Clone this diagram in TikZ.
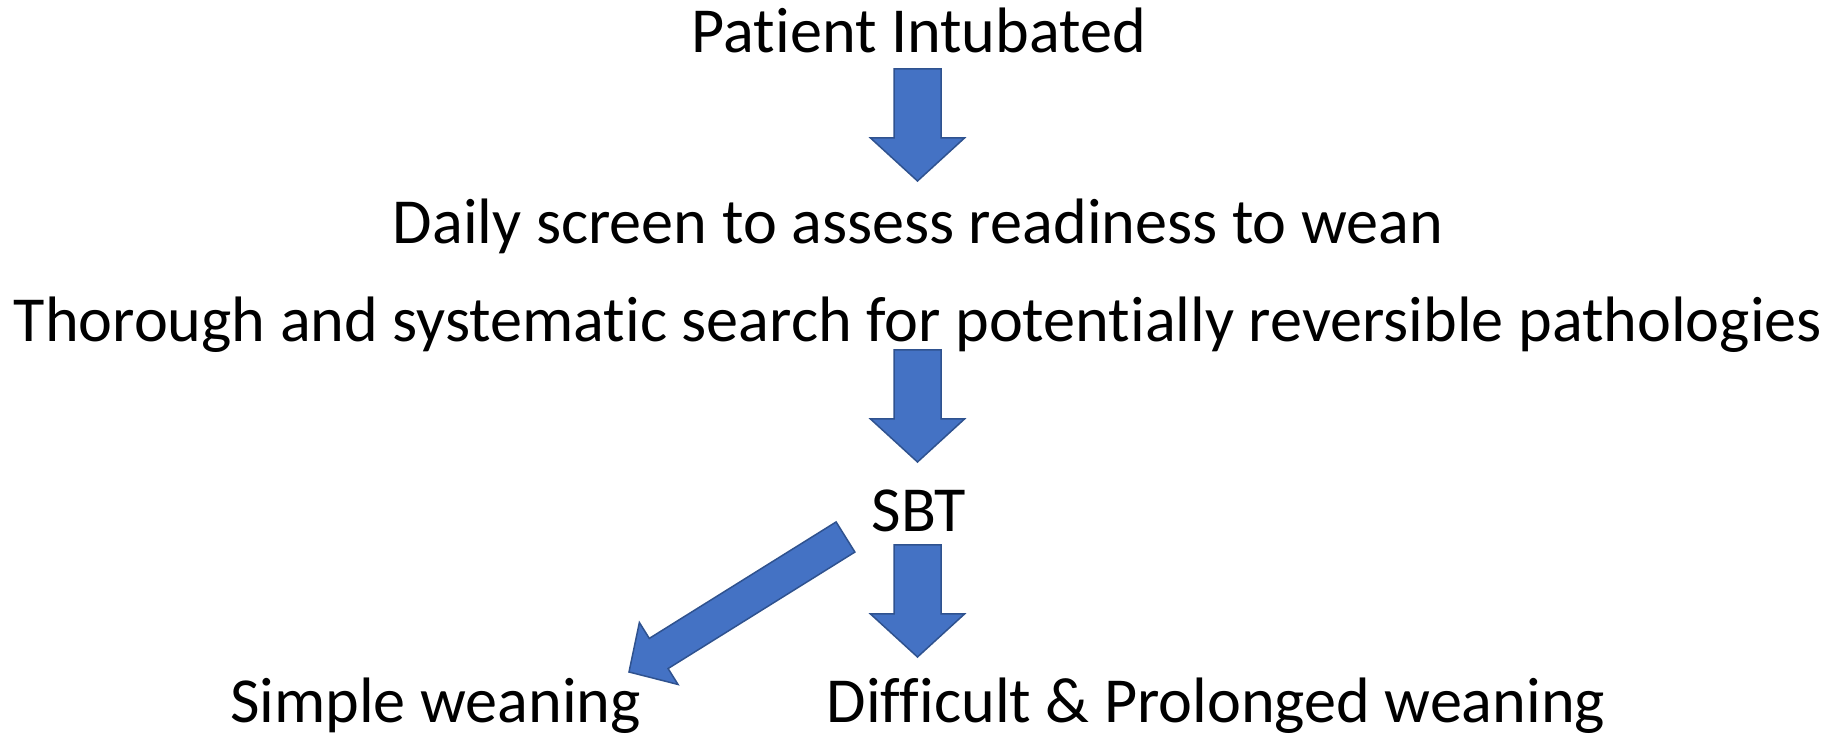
\documentclass[tikz,border=0pt]{standalone}
\usepackage{fontspec}
\setmainfont{Carlito}[Ligatures=CommonOff]
\usetikzlibrary{calc}

\definecolor{arrowfill}{HTML}{4472C4}
\definecolor{arrowedge}{HTML}{2F528F}

% Block arrow from #1 to #2; #3 = half shaft width, #4 = half head width, #5 = head length
\newcommand\blockarrow[5]{%
  \coordinate (#1-#2-h) at ($(#2)!#5!(#1)$);
  \draw[blockarrowstyle]
    ($(#1)!#3!90:(#2)$) -- ($(#1-#2-h)!#3!90:(#2)$) -- ($(#1-#2-h)!#4!90:(#2)$)
    -- (#2)
    -- ($(#1-#2-h)!#4!-90:(#2)$) -- ($(#1-#2-h)!#3!-90:(#2)$) -- ($(#1)!#3!-90:(#2)$)
    -- cycle;
}

\begin{document}
\begin{tikzpicture}[x=1pt,y=1pt,
  label/.style={inner sep=0pt, anchor=base, font=\fontsize{64.2}{77}\selectfont},
  blockarrowstyle/.style={fill=arrowfill, draw=arrowedge, line width=1.5pt, line join=miter}]
  \useasboundingbox (0,0) rectangle (1832,736);

  % text steps
  \node[label] (pi)  at (919,683)  {Patient Intubated};
  \node[label] (ds)  at (918,492)  {Daily screen to assess readiness to wean};
  \node[label] (ts)  at (918,394)  {Thorough and systematic search for potentially reversible pathologies};
  \node[label] (sbt) at (919,204)  {SBT};
  \node[label] (sw)  at (435.5,13) {Simple weaning};
  \node[label] (dw)  at (1216,13)  {Difficult \& Prolonged weaning};

  % arrow ends
  \coordinate (a1s) at (917.5,667);
  \coordinate (a1e) at (917.5,555);
  \coordinate (a2s) at (917.5,386);
  \coordinate (a2e) at (917.5,274);
  \coordinate (a3s) at (917.5,191);
  \coordinate (a3e) at (917.5,79);
  \coordinate (a4s) at (845.5,199);
  \coordinate (a4e) at (629,64);

  % block arrows
  \blockarrow{a1s}{a1e}{23.5pt}{47pt}{43pt}
  \blockarrow{a2s}{a2e}{23.5pt}{47pt}{43pt}
  \blockarrow{a3s}{a3e}{23.5pt}{47pt}{43pt}
  \blockarrow{a4s}{a4e}{17.75pt}{36.5pt}{35pt}
\end{tikzpicture}
\end{document}
